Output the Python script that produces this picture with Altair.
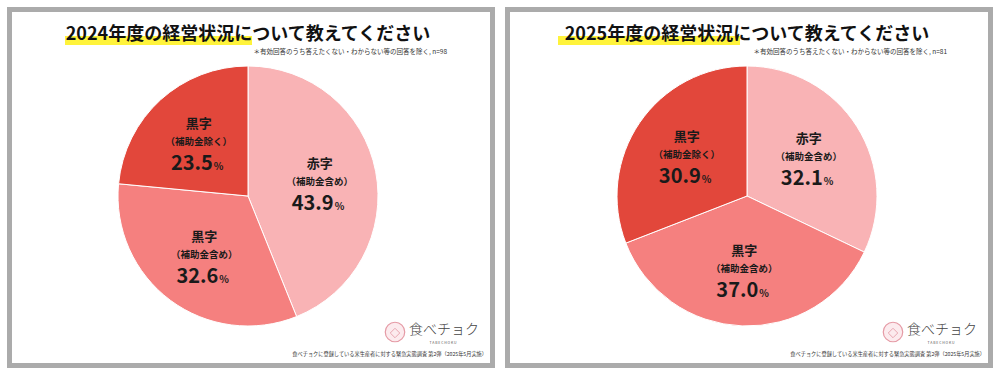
import altair as alt
import pandas as pd

FONT = "Noto Sans CJK JP"

# ---- data ----
titles = ["2024年度の経営状況について教えてください", "2025年度の経営状況について教えてください"]
n_values = [98, 81]
cat_main = ["赤字", "黒字", "黒字"]
cat_sub = ["（補助金含め）", "（補助金含め）", "（補助金除く）"]
values_2024 = [43.9, 32.6, 23.5]
values_2025 = [32.1, 37.0, 30.9]
slice_colors = ["#F9B3B5", "#F5807F", "#E2473B"]
footer_text = "食べチョクに登録している米生産者に対する緊急実態調査 第2弾（2025年5月実施）"
note_template = "＊有効回答のうち答えたくない・わからない等の回答を除く, n={}"

keys = [m + s for m, s in zip(cat_main, cat_sub)]

W, H = 488, 361       # panel incl. border
R = 130               # pie radius
LR = 73               # label radius


def panel(title, values, n, cx, hl_x0, hl_x1, note_x):
    cy = 189
    df = pd.DataFrame({
        "idx": list(range(len(values))),
        "key": keys,
        "main": cat_main,
        "sub": cat_sub,
        "value": values,
        "num": [f"{v:.1f}" for v in values],
        "pc": ["%"] * len(values),
    })
    tdf = pd.DataFrame({"t": [title], "note": [note_template.format(n)], "foot": [footer_text],
                        "logo": ["食べチョク"], "logo2": ["T A B E   C H O K U"]})
    tb = alt.Chart(tdf)

    frame = tb.mark_rect(fill="white", stroke="#ABABAB", strokeWidth=5).encode(
        x=alt.value(2.5), x2=alt.value(W - 2.5), y=alt.value(2.5), y2=alt.value(H - 2.5))

    base = alt.Chart(df).encode(
        theta=alt.Theta("value:Q", stack=True),
        order=alt.Order("idx:Q"),
    )
    arc = base.mark_arc(outerRadius=R, stroke="white", strokeWidth=1).encode(
        x=alt.value(cx), y=alt.value(cy),
        color=alt.Color("key:N", scale=alt.Scale(domain=keys, range=slice_colors), legend=None),
    )
    common = dict(radius=LR, font=FONT, fontWeight="bold", color="#1a1a1a")
    t1 = base.mark_text(fontSize=13, dy=-18, baseline="middle", **common).encode(
        x=alt.value(cx), y=alt.value(cy), text="main:N")
    t2 = base.mark_text(fontSize=9.5, dy=0, baseline="middle", **common).encode(
        x=alt.value(cx), y=alt.value(cy), text="sub:N")
    t3 = base.mark_text(fontSize=20, dy=28, dx=14, align="right", baseline="alphabetic", **common).encode(
        x=alt.value(cx), y=alt.value(cy), text="num:N")
    t4 = base.mark_text(fontSize=10, dy=28, dx=15, align="left", baseline="alphabetic", **common).encode(
        x=alt.value(cx), y=alt.value(cy), text="pc:N")

    hl = tb.mark_rect(color="#FFF33B").encode(
        x=alt.value(hl_x0), x2=alt.value(hl_x1), y=alt.value(29), y2=alt.value(38))
    tt = tb.mark_text(fontSize=18, fontWeight="bold", font=FONT, color="#111111", baseline="middle").encode(
        x=alt.value(cx), y=alt.value(28), text="t:N")
    note = tb.mark_text(fontSize=6.5, font=FONT, color="#333333", align="right", baseline="middle").encode(
        x=alt.value(note_x), y=alt.value(45), text="note:N")
    circ = tb.mark_point(shape="circle", size=380, filled=True, fill="#FCEBEE", stroke="#E59AA5",
                         strokeWidth=1.2, opacity=1).encode(
        x=alt.value(388), y=alt.value(325))
    circ2 = tb.mark_point(shape="diamond", size=90, filled=False, stroke="#E08C9A", strokeWidth=1).encode(
        x=alt.value(388), y=alt.value(326))
    logo = tb.mark_text(fontSize=14, font=FONT, fontWeight=300, color="#444444", align="left", baseline="middle").encode(
        x=alt.value(402), y=alt.value(323), text="logo:N")
    logo2 = tb.mark_text(fontSize=3.5, font=FONT, color="#555555", align="center", baseline="middle").encode(
        x=alt.value(436), y=alt.value(336), text="logo2:N")
    foot = tb.mark_text(fontSize=5.2, font=FONT, color="#333333", align="right", baseline="middle").encode(
        x=alt.value(480), y=alt.value(347), text="foot:N")

    return alt.layer(frame, arc, t1, t2, t3, t4, hl, tt, note, circ, circ2, logo, logo2, foot).properties(
        width=W, height=H)


left = panel(titles[0], values_2024, n_values[0], cx=241, hl_x0=58, hl_x1=245, note_x=440)
right = panel(titles[1], values_2025, n_values[1], cx=242, hl_x0=53, hl_x1=235, note_x=442)

chart = alt.hconcat(left, right, spacing=10).resolve_scale(theta="independent").properties(
    padding={"left": 7, "top": 7, "right": 6, "bottom": 7},
    background="white",
).configure_view(stroke=None)

chart.save("out.html", embed_options={"renderer": "svg", "actions": False})
